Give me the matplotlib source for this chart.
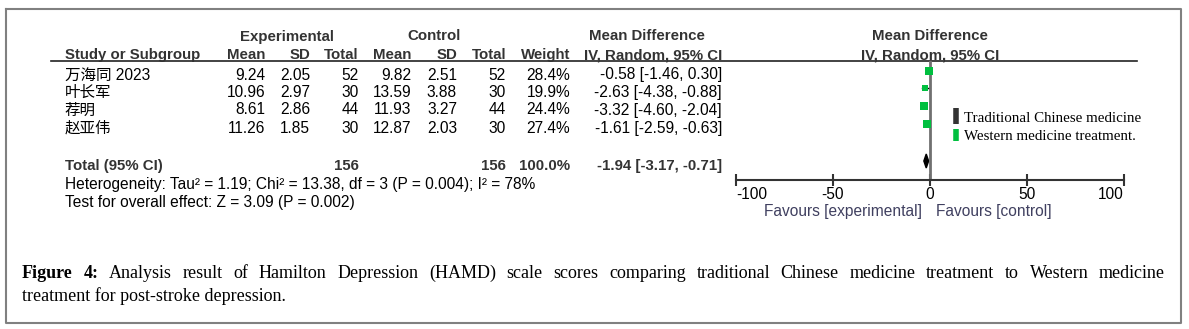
import matplotlib
matplotlib.use("Agg")
import matplotlib.pyplot as plt
from matplotlib.lines import Line2D

# study data
studies = ["万海同 2023", "叶长军", "荐明", "赵亚伟"]
exp_mean = [9.24, 10.96, 8.61, 11.26]
exp_sd = [2.05, 2.97, 2.86, 1.85]
exp_n = [52, 30, 44, 30]
ctl_mean = [9.82, 13.59, 11.93, 12.87]
ctl_sd = [2.51, 3.88, 3.27, 2.03]
ctl_n = [52, 30, 44, 30]
weights = [28.4, 19.9, 24.4, 27.4]
md = [-0.58, -2.63, -3.32, -1.61]
ci_lo = [-1.46, -4.38, -4.60, -2.59]
ci_hi = [0.30, -0.88, -2.04, -0.63]
total_n = [156, 156]
total_weight = 100.0
total_md, total_lo, total_hi = -1.94, -3.17, -0.71
xticks = [-100, -50, 0, 50, 100]

heterogeneity = "Heterogeneity: Tau² = 1.19; Chi² = 13.38, df = 3 (P = 0.004); I² = 78%"
overall = "Test for overall effect: Z = 3.09 (P = 0.002)"
caption1 = ("Analysis result of Hamilton Depression (HAMD) scale scores comparing "
            "traditional Chinese medicine treatment to Western medicine")
caption2 = "treatment for post-stroke depression."

W, H = 1189, 329
SANS = ["Liberation Sans", "Noto Sans CJK SC"]
SERIF = "Liberation Serif"
HDR = "#333333"
GREEN = "#00bf3f"
FS = 11.2    # regular table text
FSB = 10.8   # bold headers

fig = plt.figure(figsize=(W / 100, H / 100), dpi=100)
bg = fig.add_axes([0, 0, 1, 1])
bg.set_xlim(0, W)
bg.set_ylim(H, 0)
bg.axis("off")

# outer frame
bg.plot([6, 1181, 1181, 6, 6], [9, 9, 323, 323, 9], color="#808080", lw=1.5)


def txt(x, y, s, ha="right", bold=False, color="black", family=SANS):
    # y is the text baseline in pixels
    return bg.text(x, y, s, ha=ha, va="baseline", fontsize=FSB if bold else FS,
                   family=family, fontweight="bold" if bold else "normal",
                   color=color)


# header
txt(287, 40.5, "Experimental", ha="center", bold=True, color=HDR)
txt(434, 40.5, "Control", ha="center", bold=True, color=HDR)
txt(647, 40.5, "Mean Difference", ha="center", bold=True, color=HDR)
txt(930, 40.5, "Mean Difference", ha="center", bold=True, color=HDR)
txt(65, 59, "Study or Subgroup", ha="left", bold=True, color=HDR)
cols = [265, 310, 359, 411, 457, 506, 570, 722]
for x, s in zip(cols, ["Mean", "SD", "Total", "Mean", "SD", "Total", "Weight",
                       "IV, Random, 95% CI"]):
    txt(x, 59, s, bold=True, color=HDR)
txt(930, 59, "IV, Random, 95% CI", ha="center", bold=True, color=HDR)
bg.plot([51, 1137], [61, 61], color="#222222", lw=1.2)

# study rows
row_y = [79.5, 97, 114.5, 133]
for i, y in enumerate(row_y):
    txt(65, y, studies[i], ha="left")
    vals = [f"{exp_mean[i]:.2f}", f"{exp_sd[i]:.2f}", f"{exp_n[i]}",
            f"{ctl_mean[i]:.2f}", f"{ctl_sd[i]:.2f}", f"{ctl_n[i]}",
            f"{weights[i]:.1f}%",
            f"{md[i]:.2f} [{ci_lo[i]:.2f}, {ci_hi[i]:.2f}]"]
    for x, s in zip(cols, vals):
        txt(x, y, s)

# total row
total_y = 170
txt(65, total_y, "Total (95% CI)", ha="left", bold=True, color=HDR)
txt(cols[2], total_y, f"{total_n[0]}", bold=True, color=HDR)
txt(cols[5], total_y, f"{total_n[1]}", bold=True, color=HDR)
txt(cols[6], total_y, f"{total_weight:.1f}%", bold=True, color=HDR)
txt(cols[7], total_y, f"{total_md:.2f} [{total_lo:.2f}, {total_hi:.2f}]",
    bold=True, color=HDR)
txt(65, 189, heterogeneity, ha="left")
txt(65, 207, overall, ha="left")

# forest plot
fa = fig.add_axes([736 / W, 1 - 180 / H, 388 / W, 119 / H])
fa.set_xlim(-100, 100)
fa.set_ylim(180, 61)
fa.patch.set_alpha(0)
for s in ["top", "left", "right"]:
    fa.spines[s].set_visible(False)
fa.spines["bottom"].set_linewidth(1.5)
fa.spines["bottom"].set_color("#333333")
fa.set_yticks([])
fa.set_xticks(xticks)
labels = fa.set_xticklabels([str(t) for t in xticks], family=SANS, fontsize=FS)
labels[0].set_ha("left")
labels[-1].set_ha("right")
fa.tick_params(axis="x", direction="inout", length=8, width=1.5,
               color="#333333", pad=1)
fa.axvline(0, color="#707070", lw=2)

sq_y = [y - 9 for y in row_y]
for i, y in enumerate(sq_y):
    fa.plot([ci_lo[i], ci_hi[i]], [y, y], color="black", lw=1)
    fa.plot(md[i], y, marker="s", color=GREEN,
            markersize=5.8 * (weights[i] / 28.4) ** 0.5,
            markeredgewidth=0, linestyle="none")
dy = total_y - 9
fa.fill([total_lo, total_md, total_hi, total_md],
        [dy, dy - 7, dy, dy + 7], color="black")

txt(922, 216, "Favours [experimental]", color="#404060")
txt(936, 216, "Favours [control]", ha="left", color="#404060")

handles = [Line2D([], [], color="#333333", marker="|", markersize=11,
                  markeredgewidth=4, linestyle="none"),
           Line2D([], [], color=GREEN, marker="|", markersize=9,
                  markeredgewidth=4, linestyle="none")]
fig.legend(handles, ["Traditional Chinese medicine", "Western medicine treatment."],
           loc="upper left", bbox_to_anchor=(951 / W, 1 - 111 / H), frameon=False,
           prop={"family": SERIF, "size": 10.8}, handlelength=0.6,
           handletextpad=0.3, labelspacing=0.35, borderpad=0, borderaxespad=0)

# caption, first line justified
renderer = fig.canvas.get_renderer()
words = [("Figure", True), ("4:", True)] + [(w, False) for w in caption1.split()]
items = []
for w, b in words:
    t = bg.text(0, 278, w, ha="left", va="baseline", family=SERIF, fontsize=13,
                fontweight="bold" if b else "normal")
    items.append(t)
widths = [t.get_window_extent(renderer).width for t in items]
gap = (1165 - 22 - sum(widths)) / (len(items) - 1)
x = 22
for t, wd in zip(items, widths):
    t.set_x(x)
    x += wd + gap
bg.text(22, 301, caption2, ha="left", va="baseline", family=SERIF, fontsize=13)

fig.savefig("out.png", dpi=100)
